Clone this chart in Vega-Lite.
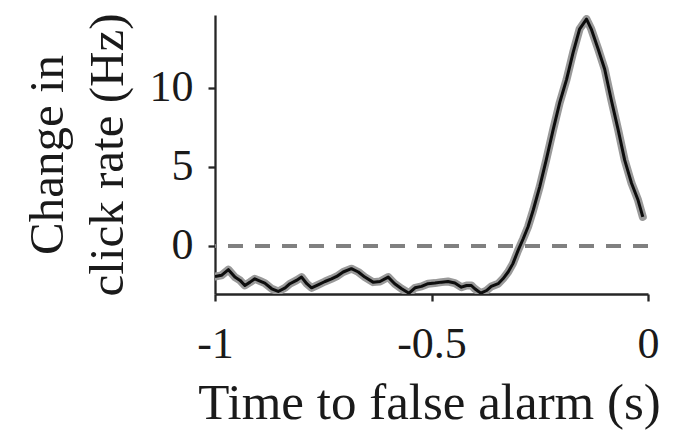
{
  "$schema": "https://vega.github.io/schema/vega-lite/v6.json",
  "autosize": {"type": "none"},
  "width": 433,
  "height": 279,
  "padding": {"left": 215, "top": 15, "right": 25, "bottom": 139},
  "background": "white",
  "config": {
    "view": {"stroke": null},
    "font": "Liberation Serif",
    "axis": {
      "grid": false,
      "domainColor": "#262626",
      "domainWidth": 2.3,
      "tickColor": "#262626",
      "tickWidth": 2.3,
      "labelFont": "Liberation Serif",
      "labelFontSize": 44,
      "labelColor": "#1a1a1a",
      "titleFont": "Liberation Serif",
      "titleFontSize": 49,
      "titleFontWeight": "normal",
      "titleColor": "#1a1a1a"
    }
  },
  "data": {
    "values": [
      {"t": -1.0, "v": -1.93},
      {"t": -0.985, "v": -1.86},
      {"t": -0.969, "v": -1.5},
      {"t": -0.954, "v": -1.97},
      {"t": -0.942, "v": -2.18},
      {"t": -0.931, "v": -2.5},
      {"t": -0.919, "v": -2.29},
      {"t": -0.908, "v": -2.08},
      {"t": -0.896, "v": -2.22},
      {"t": -0.885, "v": -2.35},
      {"t": -0.869, "v": -2.71},
      {"t": -0.854, "v": -2.88},
      {"t": -0.838, "v": -2.65},
      {"t": -0.827, "v": -2.39},
      {"t": -0.812, "v": -2.18},
      {"t": -0.8, "v": -1.97},
      {"t": -0.788, "v": -2.39},
      {"t": -0.777, "v": -2.65},
      {"t": -0.762, "v": -2.46},
      {"t": -0.746, "v": -2.25},
      {"t": -0.731, "v": -2.08},
      {"t": -0.719, "v": -1.93},
      {"t": -0.704, "v": -1.65},
      {"t": -0.685, "v": -1.44},
      {"t": -0.669, "v": -1.65},
      {"t": -0.654, "v": -1.97},
      {"t": -0.635, "v": -2.29},
      {"t": -0.619, "v": -2.25},
      {"t": -0.6, "v": -1.97},
      {"t": -0.585, "v": -2.39},
      {"t": -0.569, "v": -2.71},
      {"t": -0.552, "v": -2.99},
      {"t": -0.538, "v": -2.65},
      {"t": -0.523, "v": -2.56},
      {"t": -0.508, "v": -2.39},
      {"t": -0.492, "v": -2.35},
      {"t": -0.477, "v": -2.29},
      {"t": -0.462, "v": -2.25},
      {"t": -0.446, "v": -2.35},
      {"t": -0.431, "v": -2.61},
      {"t": -0.419, "v": -2.5},
      {"t": -0.408, "v": -2.5},
      {"t": -0.4, "v": -2.71},
      {"t": -0.386, "v": -2.99},
      {"t": -0.373, "v": -2.82},
      {"t": -0.362, "v": -2.56},
      {"t": -0.346, "v": -2.39},
      {"t": -0.335, "v": -2.08},
      {"t": -0.323, "v": -1.65},
      {"t": -0.312, "v": -1.12},
      {"t": -0.3, "v": -0.28},
      {"t": -0.288, "v": 0.47},
      {"t": -0.277, "v": 1.21},
      {"t": -0.265, "v": 2.27},
      {"t": -0.25, "v": 3.75},
      {"t": -0.235, "v": 5.44},
      {"t": -0.219, "v": 7.35},
      {"t": -0.204, "v": 9.05},
      {"t": -0.188, "v": 10.53},
      {"t": -0.173, "v": 12.22},
      {"t": -0.158, "v": 13.71},
      {"t": -0.142, "v": 14.34},
      {"t": -0.131, "v": 13.71},
      {"t": -0.115, "v": 12.44},
      {"t": -0.1, "v": 11.17},
      {"t": -0.085, "v": 9.26},
      {"t": -0.069, "v": 7.35},
      {"t": -0.054, "v": 5.44},
      {"t": -0.038, "v": 3.96},
      {"t": -0.023, "v": 2.9},
      {"t": -0.012, "v": 1.84}
    ]
  },
  "layer": [
    {
      "mark": {"type": "rule", "color": "#808080", "strokeWidth": 2.5, "strokeDash": [15, 12]},
      "encoding": {"y": {"datum": 0, "type": "quantitative"}}
    },
    {
      "mark": {"type": "line", "color": "#999999", "strokeWidth": 8, "clip": true, "strokeJoin": "round", "strokeCap": "round"},
      "encoding": {
        "x": {"field": "t", "type": "quantitative"},
        "y": {"field": "v", "type": "quantitative"}
      }
    },
    {
      "mark": {"type": "line", "color": "#0d0d0d", "strokeWidth": 3, "clip": true, "strokeJoin": "round"},
      "encoding": {
        "x": {
          "field": "t",
          "type": "quantitative",
          "scale": {"domain": [-1, 0], "nice": false, "zero": false},
          "axis": {
            "values": [-1, -0.5, 0],
            "format": "~g",
            "labelExpr": "replace(datum.label, '−', '-')",
            "tickSize": 7,
            "labelPadding": 21,
            "labelFlush": false,
            "title": "Time to false alarm (s)",
            "titleFontSize": 51,
            "titleX": 214,
            "titleY": 124,
            "titleBaseline": "alphabetic",
            "titleAlign": "center"
          }
        },
        "y": {
          "field": "v",
          "type": "quantitative",
          "scale": {"domain": [-3.04, 14.6], "nice": false, "zero": false},
          "axis": {
            "values": [0, 5, 10],
            "tickSize": 7,
            "labelPadding": 15,
            "title": ["Change in", "click rate (Hz)"],
            "titleAngle": -90,
            "titleX": -153,
            "titleY": 139.5,
            "titleAlign": "center",
            "titleBaseline": "alphabetic",
            "titleLineHeight": 60
          }
        }
      }
    }
  ]
}
